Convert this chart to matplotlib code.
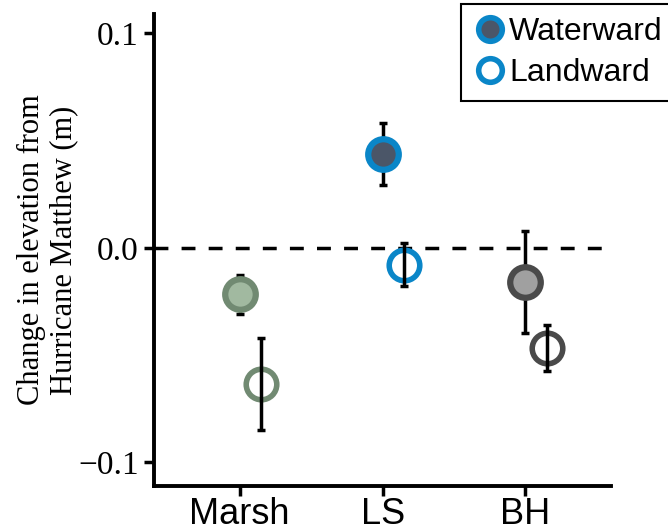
import matplotlib.pyplot as plt
import numpy as np

sites = ['Marsh', 'LS', 'BH']
waterward = [-0.0217, 0.0437, -0.0160]
waterward_err = [0.0091, 0.0145, 0.0237]
landward = [-0.0633, -0.0079, -0.0467]
landward_err = [0.0214, 0.0100, 0.0109]

edge_colors = ['#718a72', '#0a86c8', '#4a4a4a']
fill_colors = ['#a1b9a0', '#4b5668', '#a0a0a0']

fig = plt.figure(figsize=(6.68, 5.26), dpi=100)
ax = fig.add_axes([0.2305, 0.076, 0.6845, 0.8974])

x = np.arange(len(sites))
offset = 0.15

ax.axhline(0, color='black', lw=2.5, ls=(0, (4, 3.8)), zorder=1)

for i in range(len(sites)):
    # waterward: error bar behind the filled marker
    ax.errorbar(x[i], waterward[i], yerr=waterward_err[i], fmt='none',
                ecolor='black', elinewidth=2.5, capsize=3, capthick=2.5, zorder=2)
    ax.plot(x[i], waterward[i], 'o', ms=22, mec=edge_colors[i], mfc=fill_colors[i],
            mew=4.5, zorder=3)
    # landward: open marker, error bar on top
    ax.plot(x[i] + offset, landward[i], 'o', ms=22, mec=edge_colors[i], mfc='white',
            mew=4, zorder=3)
    ax.errorbar(x[i] + offset, landward[i], yerr=landward_err[i], fmt='none',
                ecolor='black', elinewidth=2.5, capsize=3, capthick=2.5, zorder=4)

ax.set_xlim(-0.6, 2.6)
ax.set_ylim(-0.111, 0.109)
ax.set_xticks(x)
ax.set_xticklabels(sites, family='Liberation Sans', fontsize=26)
ax.set_yticks([-0.1, 0.0, 0.1])
ax.set_yticklabels(['\u22120.1', '0.0', '0.1'], family='Liberation Serif', fontsize=24)
ax.tick_params(axis='both', width=2.5, length=7, pad=4)
ax.tick_params(axis='x', pad=1)

for s in ['top', 'right']:
    ax.spines[s].set_visible(False)
for s in ['left', 'bottom']:
    ax.spines[s].set_linewidth(2.8)

ax.set_ylabel('Change in elevation from\nHurricane Matthew (m)', family='Liberation Serif',
              fontsize=22, linespacing=1.15, labelpad=0)

h1, = ax.plot([], [], 'o', ms=17, mec='#0a86c8', mfc='#4b5668', mew=4)
h2, = ax.plot([], [], 'o', ms=17, mec='#0a86c8', mfc='white', mew=4)
leg = ax.legend([h1, h2], ['Waterward', 'Landward'], loc='upper left',
                bbox_to_anchor=(461 / 668, 1 - 4 / 526), bbox_transform=fig.transFigure,
                prop={'family': 'Liberation Sans', 'size': 23}, fancybox=False,
                edgecolor='black', framealpha=1, handletextpad=0.1, handlelength=1.0,
                borderpad=0.4, labelspacing=0.35, borderaxespad=0)
leg.get_frame().set_linewidth(1.5)

fig.savefig('out.png', dpi=100)
